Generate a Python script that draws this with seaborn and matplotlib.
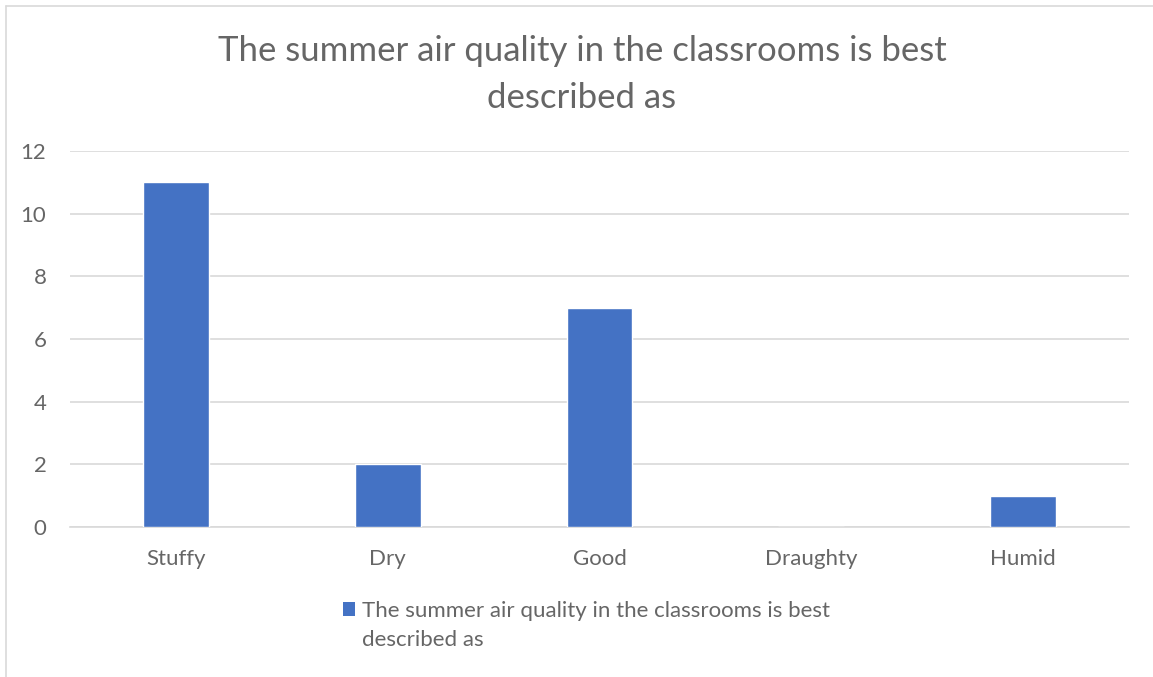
import matplotlib
matplotlib.use("Agg")
import matplotlib.pyplot as plt
import seaborn as sns
import pandas as pd
from matplotlib.lines import Line2D
from matplotlib.patches import Patch

categories = ["Stuffy", "Dry", "Good", "Draughty", "Humid"]
values = [11, 2, 7, 0, 1]
series_name = "The summer air quality in the classrooms is best described as"
yticks = [0, 2, 4, 6, 8, 10, 12]

sns.set_theme(style="white")
plt.rcParams['font.family'] = ['Lato', 'DejaVu Sans']

TXT = "#666666"
W, H = 1153, 677
fig = plt.figure(figsize=(W / 100, H / 100), dpi=100)
ax = fig.add_axes([70 / W, 1 - 527 / H, (1129 - 70) / W, (527 - 151) / H])

df = pd.DataFrame({"category": categories, "value": values})
sns.barplot(data=df, x="category", y="value", color="#4472C4", width=0.31,
            saturation=1, ax=ax, zorder=3)

ax.set_ylim(0, 12)
ax.set_xlim(-0.5, 4.5)
ax.set_yticks(yticks)
ax.set_yticklabels([str(t) for t in yticks])
ax.yaxis.grid(True, color="#D9D9D9", linewidth=1.2, zorder=0)
ax.xaxis.grid(False)
for s in ["top", "right", "left"]:
    ax.spines[s].set_visible(False)
ax.spines["bottom"].set_color("#D9D9D9")
ax.spines["bottom"].set_linewidth(1.2)
ax.set_xlabel("")
ax.set_ylabel("")
ax.tick_params(axis="both", length=0, labelsize=16, labelcolor=TXT)
ax.tick_params(axis="x", pad=16)
ax.tick_params(axis="y", pad=17)

fig.text(582 / W, 1 - 51 / H, "The summer air quality in the classrooms is best",
         ha="center", va="center", fontsize=25, color=TXT)
fig.text(582 / W, 1 - 98 / H, "described as",
         ha="center", va="center", fontsize=25, color=TXT)

first, second = "The summer air quality in the classrooms is best", "described as"
handle = Patch(facecolor="#4472C4", edgecolor="none")
leg = fig.legend([handle], [first],
                 loc="center left", bbox_to_anchor=(343 / W, 1 - 611 / H),
                 frameon=False, fontsize=16, handlelength=0.55, handleheight=0.55,
                 handletextpad=0.3, labelcolor=TXT, borderpad=0, borderaxespad=0)
fig.text(362 / W, 1 - 640 / H, second, ha="left", va="center",
         fontsize=16, color=TXT)

# chart border (left and top visible)
fig.add_artist(Line2D([6 / W, 6 / W], [0, 1 - 6 / H], transform=fig.transFigure,
                      color="#D9D9D9", linewidth=1.2))
fig.add_artist(Line2D([6 / W, 1], [1 - 6 / H, 1 - 6 / H], transform=fig.transFigure,
                      color="#D9D9D9", linewidth=1.2))

fig.savefig("out.png", dpi=100, facecolor="white")
